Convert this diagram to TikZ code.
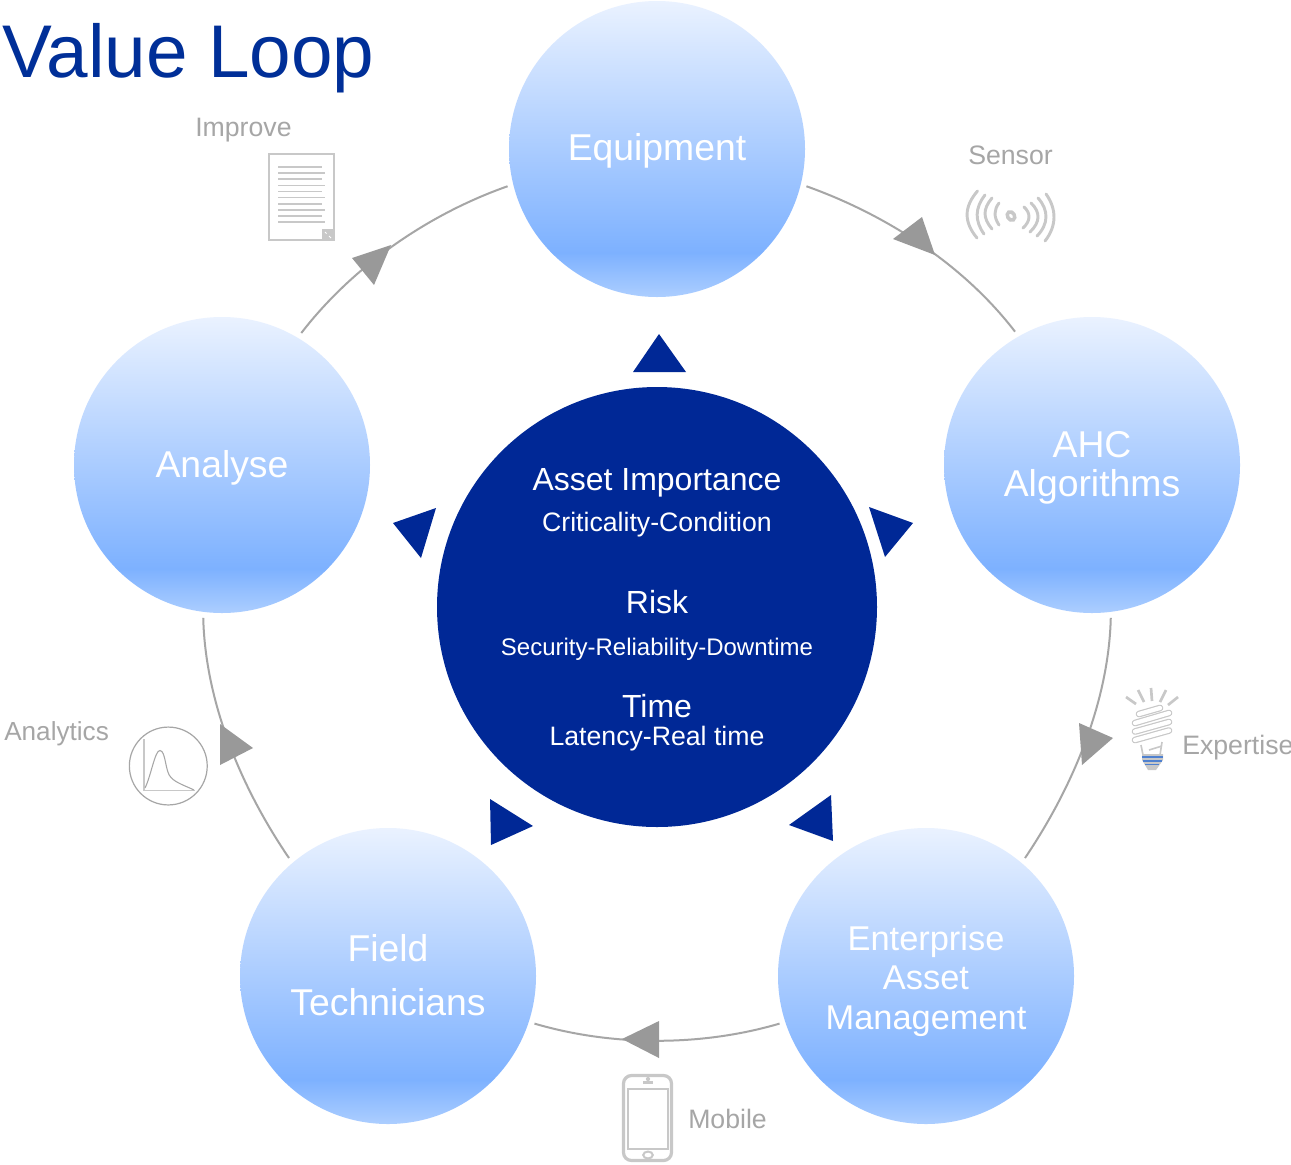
\documentclass[tikz,border=0pt]{standalone}
\usepackage{fontspec}
\setmainfont{Liberation Sans}
\definecolor{navy}{HTML}{002896}
\definecolor{titleblue}{HTML}{002F98}
\definecolor{ringgrey}{HTML}{A6A6A6}
\definecolor{arrowgrey}{HTML}{999999}
\definecolor{labelgrey}{HTML}{A6A6A6}
\definecolor{icongrey}{HTML}{C8C8C8}
\definecolor{bulbblue}{HTML}{4F81D0}
\definecolor{ballA}{HTML}{EAF2FF}
\definecolor{ballB}{HTML}{7DB1FF}
\definecolor{ballC}{HTML}{ACCEFF}
\pgfdeclareverticalshading{ballshade}{100bp}{color(0bp)=(ballC); color(25bp)=(ballC); color(32.5bp)=(ballB); color(75bp)=(ballA); color(100bp)=(ballA)}
\newcommand{\fs}[1]{\fontsize{#1}{#1}\selectfont}
\tikzset{
  x=0.75pt, y=-0.75pt,
  ball/.style={circle, minimum size=222pt, inner sep=0pt, outer sep=4.5pt, shading=ballshade, shading angle=0, text=white},
  hub/.style={circle, minimum size=330pt, inner sep=0pt, fill=navy},
  balltext/.style={anchor=base, text=white, inner sep=0pt},
  greylabel/.style={anchor=base west, text=labelgrey, inner sep=0pt, font=\fs{20}},
  ring/.style={draw=ringgrey, line width=1.5pt, looseness=0.85},
  flowtip/.style={fill=arrowgrey, draw=none},
  hubtip/.style={fill=navy, draw=none},
  icon/.style={draw=icongrey, line width=2.2pt, fill=none},
  iconthin/.style={draw=icongrey, line width=0.9pt, fill=none},
  wave/.style={draw=icongrey, line width=2.2pt, line cap=round},
}
\begin{document}
\begin{tikzpicture}
\useasboundingbox (0,0) rectangle (1291,1164);
\fill[white] (0,0) rectangle (1291,1164);

\node[anchor=base west, inner sep=0pt, text=titleblue, font=\fs{56}] (title) at (2,77) {Value Loop};

\node[hub] (hub) at (657,607) {};
\node[ball] (eq) at (657,149) {};
\node[ball] (ahc) at (1092,465) {};
\node[ball] (eam) at (926,976) {};
\node[ball] (ft) at (388,976) {};
\node[ball] (an) at (222,465) {};

% ring
\draw[ring] (eq.-14.7) to[out=-19.6, in=127.5] (ahc.120);
\draw[ring] (ahc.-83.7) to[out=-91.4, in=56] (eam.50);
\draw[ring] (eam.198.6) to[out=196.4, in=-16.4] (ft.-18.2);
\draw[ring] (ft.130) to[out=124.3, in=-88.6] (an.263.3);
\draw[ring] (an.59.6) to[out=52.4, in=199.4] (eq.194.8);

% grey flow arrowheads
\fill[flowtip] (922,217) -- (893,239) -- (935,255) -- cycle;
\fill[flowtip] (1079,723) -- (1113,738) -- (1082,765) -- cycle;
\fill[flowtip] (659,1021) -- (622,1039) -- (659,1058) -- cycle;
\fill[flowtip] (220,724) -- (253,748) -- (220,765) -- cycle;
\fill[flowtip] (391,245) -- (352,258) -- (374,285) -- cycle;

% navy arrowheads
\fill[hubtip] (659,334) -- (633,372) -- (686,372) -- cycle;
\fill[hubtip] (869,507) -- (913,523) -- (885,557) -- cycle;
\fill[hubtip] (831,795) -- (789,825) -- (833,841) -- cycle;
\fill[hubtip] (490,799) -- (533,826) -- (491,845) -- cycle;
\fill[hubtip] (436,508) -- (393,523) -- (421,558) -- cycle;

% circle texts
\node[balltext, font=\fs{28}] (t1) at (657,160) {Equipment};
\node[balltext, font=\fs{28}] (t2) at (1092,457) {AHC};
\node[balltext, font=\fs{28}] (t3) at (1092,496) {Algorithms};
\node[balltext, font=\fs{25.8}] (t4) at (926,950) {Enterprise};
\node[balltext, font=\fs{25.8}] (t5) at (926,989) {Asset};
\node[balltext, font=\fs{25.8}] (t6) at (926,1029) {Management};
\node[balltext, font=\fs{28}] (t7) at (388,961) {Field};
\node[balltext, font=\fs{28}] (t8) at (388,1015) {Technicians};
\node[balltext, font=\fs{28}] (t9) at (222,477) {Analyse};

% hub texts
\node[balltext, font=\fs{24}] (h1) at (657,490) {Asset Importance};
\node[balltext, font=\fs{20}] (h2) at (657,531) {Criticality-Condition};
\node[balltext, font=\fs{24}] (h3) at (657,613) {Risk};
\node[balltext, font=\fs{18}] (h4) at (657,655) {Security-Reliability-Downtime};
\node[balltext, font=\fs{24}] (h5) at (657,717) {Time};
\node[balltext, font=\fs{20}] (h6) at (657,745) {Latency-Real time};

% grey labels
\node[greylabel] (l1) at (195,136) {Improve};
\node[greylabel] (l2) at (968,164) {Sensor};
\node[greylabel] (l3) at (1182,754) {Expertise};
\node[greylabel] (l4) at (688,1128) {Mobile};
\node[greylabel, font=\fs{19.6}] (l5) at (4,740) {Analytics};

% document icon
\draw[icon] (269,154) rectangle (334,240);
\foreach \yy/\xe in {167/322,173/325,179/322,185.5/325,191.5/322,197.5/325,204/322,210/325,216/322,222/325}
  \draw[iconthin] (278,\yy) -- (\xe,\yy);
\fill[icongrey] (322,229) rectangle (335,241);
\draw[white, line width=0.7pt] (325,232) -- (326.5,233.5) (329,236) -- (331,238);

% sensor icon
\draw[icon, line width=2.6pt, rotate around={30:(1011,216)}] (1011,216) ellipse[x radius=2.6pt, y radius=3.4pt];
\draw[wave] (977.5,191) .. controls (963.7,207) and (963.7,222) .. (977,238);
\draw[wave] (985,195) .. controls (974.7,208) and (974.7,221) .. (984,234);
\draw[wave] (992,198) .. controls (982.7,209) and (982.7,218) .. (992,229);
\draw[wave] (999,203) .. controls (993.7,210) and (993.7,217) .. (999,225);
\draw[wave] (1046,194) .. controls (1056.8,209) and (1056.8,226) .. (1045,241);
\draw[wave] (1038,198) .. controls (1048.8,210) and (1048.8,224) .. (1037,236);
\draw[wave] (1031,203) .. controls (1040.5,212) and (1040.5,222) .. (1030,232);
\draw[wave] (1024,207) .. controls (1030.8,213) and (1030.8,221) .. (1023,228);

% bulb icon
\foreach \xa/\ya/\xb/\yb in {1126/697/1136/704, 1138/690/1144/702, 1151/688/1152/701, 1166/690/1160/702, 1178/697/1168/705}
  \draw[icongrey, line width=2pt] (\xa,\ya) -- (\xb,\yb);
\foreach \xa/\ya/\xb/\yb in {1139/714/1160/708, 1135/723/1169/713, 1135/731.5/1169/722, 1135/740/1169/730.5} {
  \draw[icongrey, line width=5pt, line cap=round] (\xa,\ya) -- (\xb,\yb);
  \draw[white, line width=3.2pt, line cap=round] (\xa,\ya) -- (\xb,\yb);
}
\draw[icongrey, line width=1.2pt] (1141,745) -- (1143,755) (1162,742) -- (1160,755) (1149,750) -- (1162,746);
\fill[icongrey] (1142,754) -- (1163,754) -- (1163,760) -- (1156,770) -- (1148,770) -- (1142,760) -- cycle;
\draw[bulbblue, line width=1pt] (1142,757) -- (1163,757) (1143,761) -- (1162,761) (1145,764.5) -- (1159,764.5);

% phone icon
\draw[icon, line width=2.4pt, rounded corners=6pt] (623.5,1075.5) rectangle (671.5,1160.5);
\draw[icon, line width=1.5pt] (627.5,1088.5) rectangle (668,1149);
\fill[icongrey] (643,1081) rectangle (653,1084);
\fill[icongrey] (648,1079) circle[radius=1.6pt];
\draw[icon, line width=1.5pt] (648,1155) ellipse[x radius=3.6pt, y radius=2.6pt];

% analytics icon
\draw[draw=ringgrey, line width=0.9pt] (168.3,766) circle[radius=29.2pt];
\draw[draw=icongrey, line width=1.2pt] (143.7,739) -- (143.7,790.5) -- (195,790.5);
\draw[draw=ringgrey, line width=0.8pt] (145,788) .. controls (151,776) and (155,750) .. (160,750.5) .. controls (166,751) and (165,772) .. (171,777.5) .. controls (176,783) and (186,786) .. (194,790);
\end{tikzpicture}
\end{document}
